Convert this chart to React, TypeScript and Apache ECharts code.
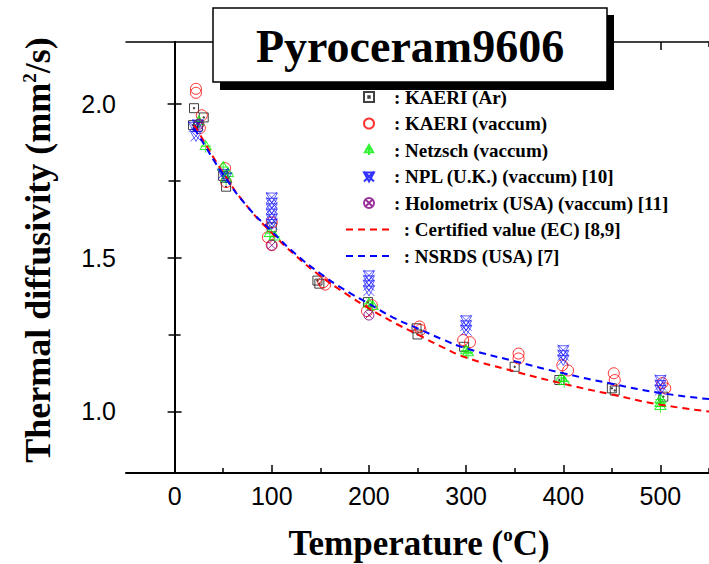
import { useEffect, useRef } from 'react';
import * as echarts from 'echarts';

// ---- data (temperature °C, thermal diffusivity mm²/s) ----
const kaeriAr: number[][] = [
  [20, 1.985], [19, 1.93], [24, 1.925], [30, 1.955], [50, 1.765], [53, 1.73],
  [100, 1.598], [147, 1.425], [149, 1.415], [199, 1.355], [249, 1.27], [250, 1.25],
  [298, 1.21], [350, 1.145], [396, 1.102], [450, 1.075], [453, 1.068], [503, 1.048],
];
const kaeriVac: number[][] = [
  [22, 2.048], [22, 2.035], [28, 1.962], [26, 1.92], [52, 1.79], [53, 1.745],
  [100, 1.614], [96, 1.566], [100, 1.54], [153, 1.42], [155, 1.412], [203, 1.345],
  [198, 1.326], [252, 1.276], [253, 1.265], [297, 1.232], [304, 1.225], [354, 1.188],
  [354, 1.172], [399, 1.15], [405, 1.133], [452, 1.124], [453, 1.102], [502, 1.092], [505, 1.075],
];
const netzsch: number[][] = [
  [25, 1.94], [32, 1.86], [50, 1.792], [55, 1.772], [53, 1.755], [98, 1.577], [103, 1.566],
  [200, 1.348], [204, 1.34], [300, 1.196], [302, 1.19], [398, 1.107], [401, 1.096],
  [500, 1.037], [500, 1.025], [500, 1.015],
];
const npl: number[][] = [
  [20, 1.925], [24, 1.932], [22, 1.895], [50, 1.772], [53, 1.76],
  [100, 1.695], [100, 1.678], [100, 1.66], [100, 1.643], [100, 1.626], [100, 1.609],
  [200, 1.442], [200, 1.426], [200, 1.41], [200, 1.393],
  [300, 1.296], [300, 1.28], [300, 1.264],
  [400, 1.199], [400, 1.183], [400, 1.167],
  [500, 1.102], [500, 1.086], [500, 1.07],
];
const holometrix: number[][] = [[25, 1.933], [100, 1.54], [200, 1.313]];

const curveT = [20, 25, 50, 75, 100, 125, 150, 175, 200, 225, 250, 275, 300, 350, 400, 450, 500, 550];
const certifiedV = [1.93, 1.905, 1.775, 1.665, 1.58, 1.505, 1.44, 1.385, 1.335, 1.29, 1.25, 1.21, 1.175, 1.13, 1.09, 1.055, 1.022, 1.0];
const nsrdsV = [1.92, 1.895, 1.77, 1.665, 1.585, 1.51, 1.448, 1.395, 1.35, 1.305, 1.27, 1.235, 1.205, 1.163, 1.124, 1.09, 1.06, 1.04];

const xMajor = [0, 100, 200, 300, 400, 500];
const xMinor = [50, 150, 250, 350, 450, 550];
const yMajor = [1.0, 1.5, 2.0];
const yMinor = [1.25, 1.75];

const SERIF = 'Liberation Serif';
const SANS = 'Liberation Sans';

const symSquareDot = 'path://M0,0L10,0L10,10L0,10Z M4.3,4.3L5.7,4.3L5.7,5.7L4.3,5.7Z';
const symTriCross = 'path://M5,0L9.5,8L0.5,8Z M5,0L5,11 M1,5L9,5';
const symXTri = 'path://M0,0L10,10 M10,0L0,10 M0,1L10,1L5,10Z';
const symCircX = 'path://M10,5A5,5,0,1,1,0,5A5,5,0,1,1,10,5Z M1.5,1.5L8.5,8.5 M8.5,1.5L1.5,8.5';

function hollow(color: string, w = 1) {
  return { color: 'rgba(0,0,0,0)', borderColor: color, borderWidth: w };
}

export default function App() {
  const ref = useRef<HTMLDivElement>(null);
  useEffect(() => {
    document.body.style.margin = '0';
    const chart = echarts.init(ref.current!, undefined, { renderer: 'svg' });
    const gridRect = { left: 126, top: 42, right: -6, bottom: 91 };
    const axisBase = { type: 'value', min: -50, max: 550, splitLine: { show: false } };
    const yBase = { type: 'value', min: 0.8, max: 2.2, splitLine: { show: false } };
    const legendText = { fontFamily: SERIF, fontWeight: 'bold', fontSize: 19, color: '#000', lineHeight: 22 };
    chart.setOption({
      animation: false,
      backgroundColor: '#fff',
      grid: [{ ...gridRect }, { ...gridRect }],
      xAxis: [
        {
          ...axisBase, gridIndex: 0, position: 'bottom',
          axisLine: { lineStyle: { color: '#000', width: 2 } },
          axisTick: { inside: true, length: 8, customValues: xMajor, lineStyle: { color: '#000', width: 1.5 } },
          axisLabel: { customValues: xMajor, fontFamily: SANS, fontSize: 25, color: '#000', margin: 10 },
        },
        {
          ...axisBase, gridIndex: 0, position: 'top',
          axisLine: { lineStyle: { color: '#000', width: 1.5 } },
          axisTick: { inside: true, length: 8, customValues: xMajor, lineStyle: { color: '#000', width: 1.5 } },
          axisLabel: { show: false },
        },
        {
          ...axisBase, gridIndex: 1, position: 'bottom',
          axisLine: { show: false },
          axisTick: { inside: true, length: 5, customValues: xMinor, lineStyle: { color: '#000', width: 1.5 } },
          axisLabel: { show: false },
        },
        {
          ...axisBase, gridIndex: 1, position: 'top',
          axisLine: { show: false },
          axisTick: { inside: true, length: 5, customValues: xMinor, lineStyle: { color: '#000', width: 1.5 } },
          axisLabel: { show: false },
        },
      ],
      yAxis: [
        {
          ...yBase, gridIndex: 0, position: 'left',
          axisLine: { lineStyle: { color: '#000', width: 2 } },
          axisTick: { inside: true, length: 7, customValues: yMajor, lineStyle: { color: '#000', width: 1.5 } },
          axisLabel: {
            customValues: yMajor, fontFamily: SANS, fontSize: 25, color: '#000', margin: 10,
            formatter: (v: number) => v.toFixed(1),
          },
        },
        {
          ...yBase, gridIndex: 0, position: 'right',
          axisLine: { lineStyle: { color: '#000', width: 2 } },
          axisTick: { inside: true, length: 7, customValues: yMajor, lineStyle: { color: '#000', width: 1.5 } },
          axisLabel: { show: false },
        },
        {
          ...yBase, gridIndex: 1, position: 'left',
          axisLine: { show: false },
          axisTick: { inside: true, length: 6, customValues: yMinor, lineStyle: { color: '#000', width: 1.5 } },
          axisLabel: { show: false },
        },
        {
          ...yBase, gridIndex: 1, position: 'right',
          axisLine: { show: false },
          axisTick: { inside: true, length: 6, customValues: yMinor, lineStyle: { color: '#000', width: 1.5 } },
          axisLabel: { show: false },
        },
      ],
      legend: [
        {
          data: ['KAERI (Ar)', 'KAERI (vaccum)', 'Netzsch (vaccum)', 'NPL (U.K.) (vaccum) [10]', 'Holometrix (USA) (vaccum) [11]'],
          orient: 'vertical', left: 363, top: 86, padding: 0,
          itemWidth: 40, itemHeight: 10, itemGap: 4.5,
          formatter: (n: string) => ': ' + n,
          textStyle: legendText,
          selectedMode: false,
        },
        {
          data: ['Certified value (EC) [8,9]', 'NSRDS (USA) [7]'],
          orient: 'vertical', left: 345, top: 218.5, padding: 0,
          itemWidth: 48, itemHeight: 10, itemGap: 4.5,
          formatter: (n: string) => '\u00a0: ' + n,
          textStyle: legendText,
          itemStyle: { opacity: 0 },
          selectedMode: false,
        },
      ],
      series: [
        {
          name: 'Certified value (EC) [8,9]', type: 'line', smooth: true, symbol: 'none',
          data: curveT.map((t, i) => [t, certifiedV[i]]),
          lineStyle: { color: '#ff0000', width: 2, type: [7, 5] }, itemStyle: { color: '#ff0000' }, z: 3,
        },
        {
          name: 'NSRDS (USA) [7]', type: 'line', smooth: true, symbol: 'none',
          data: curveT.map((t, i) => [t, nsrdsV[i]]),
          lineStyle: { color: '#0000ff', width: 2, type: [7, 5] }, itemStyle: { color: '#0000ff' }, z: 3,
        },
        {
          name: 'KAERI (Ar)', type: 'scatter', symbol: symSquareDot, symbolSize: 9,
          data: kaeriAr, itemStyle: hollow('#111'),
        },
        {
          name: 'KAERI (vaccum)', type: 'scatter', symbol: 'circle', symbolSize: 11,
          data: kaeriVac, itemStyle: hollow('#ff0000'),
        },
        {
          name: 'Netzsch (vaccum)', type: 'scatter', symbol: symTriCross, symbolSize: [11, 12],
          data: netzsch, itemStyle: hollow('#00ee00'),
        },
        {
          name: 'NPL (U.K.) (vaccum) [10]', type: 'scatter', symbol: symXTri, symbolSize: 11,
          data: npl, itemStyle: hollow('#0000ff', 0.8),
        },
        {
          name: 'Holometrix (USA) (vaccum) [11]', type: 'scatter', symbol: symCircX, symbolSize: 10,
          data: holometrix, itemStyle: hollow('#800080'),
        },
      ],
      graphic: [
        { type: 'rect', z: 100, shape: { x: 220, y: 15, width: 394, height: 75 }, style: { fill: '#000' } },
        { type: 'rect', z: 101, shape: { x: 213, y: 8, width: 394, height: 74 }, style: { fill: '#fff', stroke: '#000', lineWidth: 1.5 } },
        {
          type: 'text', z: 102, x: 410, y: 46,
          style: { text: 'Pyroceram9606', fontFamily: SERIF, fontWeight: 'bold', fontSize: 46, fill: '#000', align: 'center', verticalAlign: 'middle' },
        },
        {
          type: 'text', z: 102, x: 419, y: 543,
          style: {
            text: '{b|Temperature (}{s|o}{b|C)}', align: 'center', verticalAlign: 'middle',
            rich: {
              b: { fontFamily: SERIF, fontWeight: 'bold', fontSize: 35, fill: '#000' },
              s: { fontFamily: SERIF, fontWeight: 'bold', fontSize: 19, fill: '#000', padding: [0, 0, 17, 0] },
            },
          },
        },
        {
          type: 'text', z: 102, x: 38, y: 250, rotation: Math.PI / 2,
          style: {
            text: '{b|Thermal diffusivity (mm}{s|2}{b|/s)}', align: 'center', verticalAlign: 'middle',
            rich: {
              b: { fontFamily: SERIF, fontWeight: 'bold', fontSize: 36, fill: '#000' },
              s: { fontFamily: SERIF, fontWeight: 'bold', fontSize: 19, fill: '#000', padding: [0, 0, 17, 0] },
            },
          },
        },
      ],
    });
    return () => chart.dispose();
  }, []);
  return <div ref={ref} style={{ width: 709, height: 564 }} />;
}
